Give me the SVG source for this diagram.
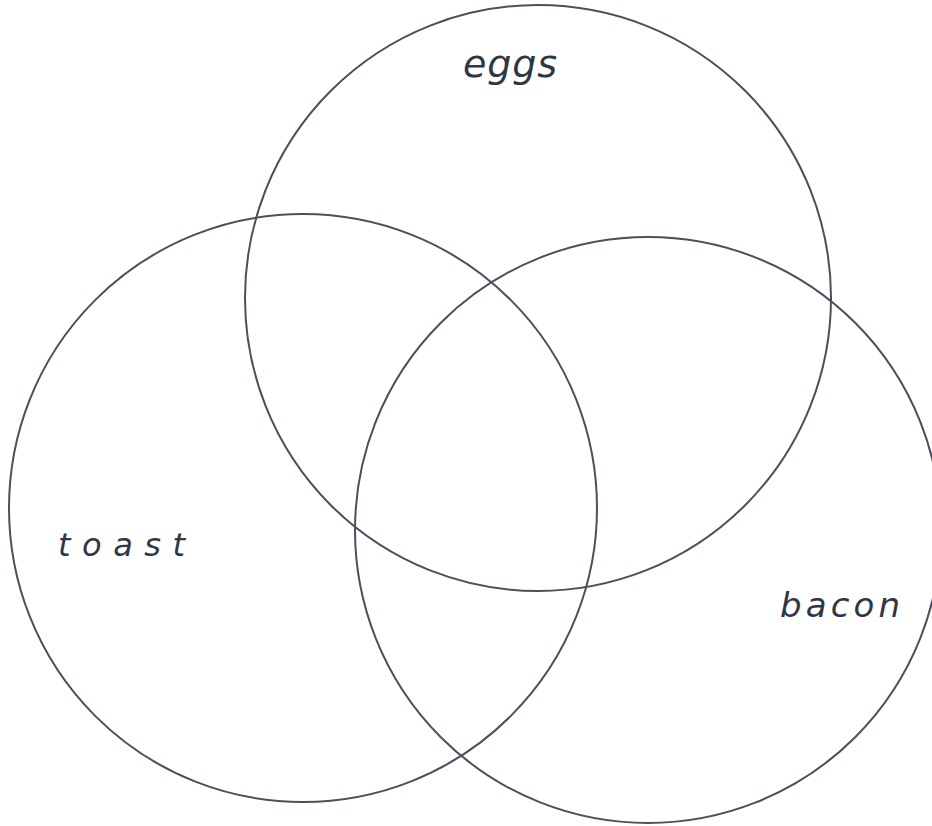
<svg xmlns="http://www.w3.org/2000/svg" width="932" height="826" viewBox="0 0 932 826">
<style>
.c{fill:none;stroke:#4a505c;stroke-width:2}
.t{font-family:"DejaVu Sans","Liberation Sans",sans-serif;font-style:italic;fill:#2f3646}
</style>
<rect width="932" height="826" fill="#fff"/>
<g id="eggs"><circle class="c" cx="538" cy="298" r="293"/><text class="t" x="463" y="77" font-size="38" textLength="94" lengthAdjust="spacing">eggs</text></g>
<g id="toast"><circle class="c" cx="303" cy="508" r="294"/><text class="t" x="58" y="556" font-size="32" textLength="127" lengthAdjust="spacing">toast</text></g>
<g id="bacon"><circle class="c" cx="648" cy="530" r="293"/><text class="t" x="780" y="617" font-size="34" textLength="120" lengthAdjust="spacing">bacon</text></g>
<g id="connectors"></g>
</svg>
